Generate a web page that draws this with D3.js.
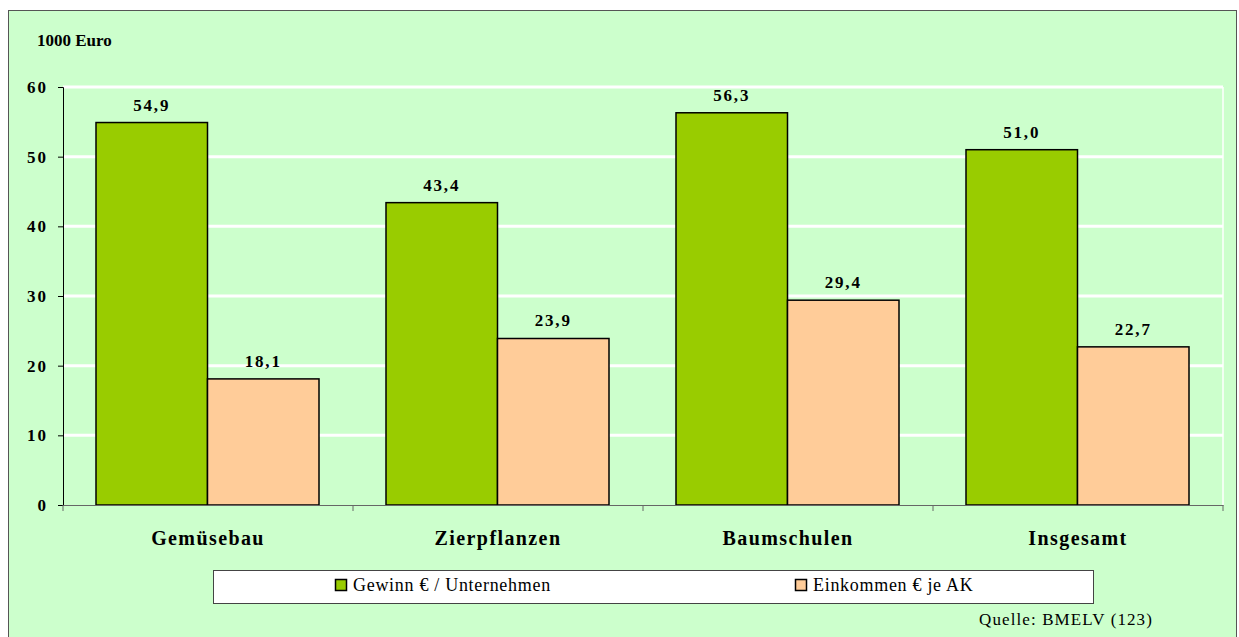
<!DOCTYPE html>
<html>
<head>
<meta charset="utf-8">
<script src="https://cdn.jsdelivr.net/npm/d3@7"></script>
<style>
  body { margin: 0; background: #fff; }
  svg text { font-family: 'Liberation Serif', 'Times New Roman', serif; }
</style>
</head>
<body>
<div id="chart"></div>
<script>
let categories = ['Gemüsebau', 'Zierpflanzen', 'Baumschulen', 'Insgesamt']
let seriesNames = ['Gewinn € / Unternehmen', 'Einkommen € je AK']
let gewinn = [54.9, 43.4, 56.3, 51.0]
let einkommen = [18.1, 23.9, 29.4, 22.7]
let yTicks = [0, 10, 20, 30, 40, 50, 60]
let colors = ['#99cc00', '#ffcc99']

let W = 1239
let H = 637
let margin = { top: 87, left: 63, right: 16, bottom: 132 }
let width = W - margin.left - margin.right
let height = H - margin.top - margin.bottom
let serif = "'Liberation Serif', 'Times New Roman', serif"

let svg = d3
  .select('#chart')
  .append('svg')
  .attr('width', W)
  .attr('height', H)
  .attr('font-family', serif)

// outer frame
svg
  .append('rect')
  .attr('x', 8.5)
  .attr('y', 10.5)
  .attr('width', W - 11)
  .attr('height', H - 10)
  .attr('fill', '#ccffcc')
  .attr('stroke', '#555')

svg
  .append('text')
  .text('1000 Euro')
  .attr('x', 37)
  .attr('y', 46)
  .attr('font-size', 17)
  .attr('font-weight', 'bold')

let g = svg.append('g').attr('transform', `translate(${margin.left},${margin.top})`)

let x0 = d3.scaleBand().domain(categories).range([0, width])
let x1 = d3.scaleBand().domain([0, 1]).range([33, x0.bandwidth() - 34])
let y = d3.scaleLinear().domain([0, 60]).range([height, 0])

// gridlines
g.selectAll('.grid')
  .data(yTicks.filter(d => d > 0))
  .enter()
  .append('line')
  .attr('x1', 0)
  .attr('x2', width)
  .attr('y1', d => y(d))
  .attr('y2', d => y(d))
  .attr('stroke', '#fff')
  .attr('stroke-width', 3)

g.append('line')
  .attr('x1', width)
  .attr('x2', width)
  .attr('y1', 0)
  .attr('y2', height)
  .attr('stroke', '#fff')
  .attr('stroke-width', 1.5)

let data = categories.map((c, i) => ({ cat: c, values: [gewinn[i], einkommen[i]] }))

let groups = g
  .selectAll('.cat')
  .data(data)
  .enter()
  .append('g')
  .attr('transform', d => `translate(${x0(d.cat)},0)`)

groups
  .selectAll('rect')
  .data(d => d.values)
  .enter()
  .append('rect')
  .attr('x', (d, i) => x1(i))
  .attr('width', x1.bandwidth())
  .attr('y', d => y(d))
  .attr('height', d => height - y(d))
  .attr('fill', (d, i) => colors[i])
  .attr('stroke', '#000')
  .attr('stroke-width', 1.5)

groups
  .selectAll('.lbl')
  .data(d => d.values)
  .enter()
  .append('text')
  .text(d => d3.format('.1f')(d).replace('.', ','))
  .attr('x', (d, i) => x1(i) + x1.bandwidth() / 2)
  .attr('y', d => y(d) - 12)
  .attr('text-anchor', 'middle')
  .attr('font-size', 17)
  .attr('letter-spacing', 1.8)
  .attr('font-weight', 'bold')

// y axis
let yAxis = g.append('g').call(
  d3
    .axisLeft(y)
    .tickValues(yTicks)
    .tickSize(5)
    .tickPadding(10)
    .tickFormat(d3.format('d'))
)
yAxis.select('.domain').attr('stroke', '#000')
yAxis.selectAll('line').attr('stroke', '#000')
yAxis
  .selectAll('text')
  .attr('font-size', 17)
  .attr('letter-spacing', 2)
  .attr('font-weight', 'bold')
  .attr('font-family', serif)

// x axis
let xAxis = g
  .append('g')
  .attr('transform', `translate(0,${height})`)
  .call(
    d3
      .axisBottom(x0)
      .tickSize(0)
      .tickPadding(26)
  )
xAxis.select('.domain').attr('stroke', '#666')
xAxis
  .selectAll('text')
  .attr('font-size', 20)
  .attr('letter-spacing', 1.4)
  .attr('font-weight', 'bold')
  .attr('font-family', serif)

g.selectAll('.xtick')
  .data(d3.range(categories.length + 1))
  .enter()
  .append('line')
  .attr('x1', i => i * x0.step())
  .attr('x2', i => i * x0.step())
  .attr('y1', height)
  .attr('y2', height + 6)
  .attr('stroke', '#666')

// legend
let legend = svg.append('g')
legend
  .append('rect')
  .attr('x', 213.5)
  .attr('y', 570.5)
  .attr('width', 880)
  .attr('height', 33)
  .attr('fill', '#fff')
  .attr('stroke', '#444')

let legendX = [335, 795]
seriesNames.forEach((name, i) => {
  legend
    .append('rect')
    .attr('x', legendX[i] + 0.5)
    .attr('y', 579.5)
    .attr('width', 11)
    .attr('height', 11)
    .attr('fill', colors[i])
    .attr('stroke', '#000')
    .attr('stroke-width', 1.5)
  legend
    .append('text')
    .text(name)
    .attr('x', legendX[i] + 18)
    .attr('y', 591)
    .attr('font-size', 18)
    .attr('letter-spacing', 0.7)
})

svg
  .append('text')
  .text('Quelle: BMELV (123)')
  .attr('x', 1153)
  .attr('y', 625)
  .attr('text-anchor', 'end')
  .attr('font-size', 17)
  .attr('letter-spacing', 1.1)
</script>
</body>
</html>
